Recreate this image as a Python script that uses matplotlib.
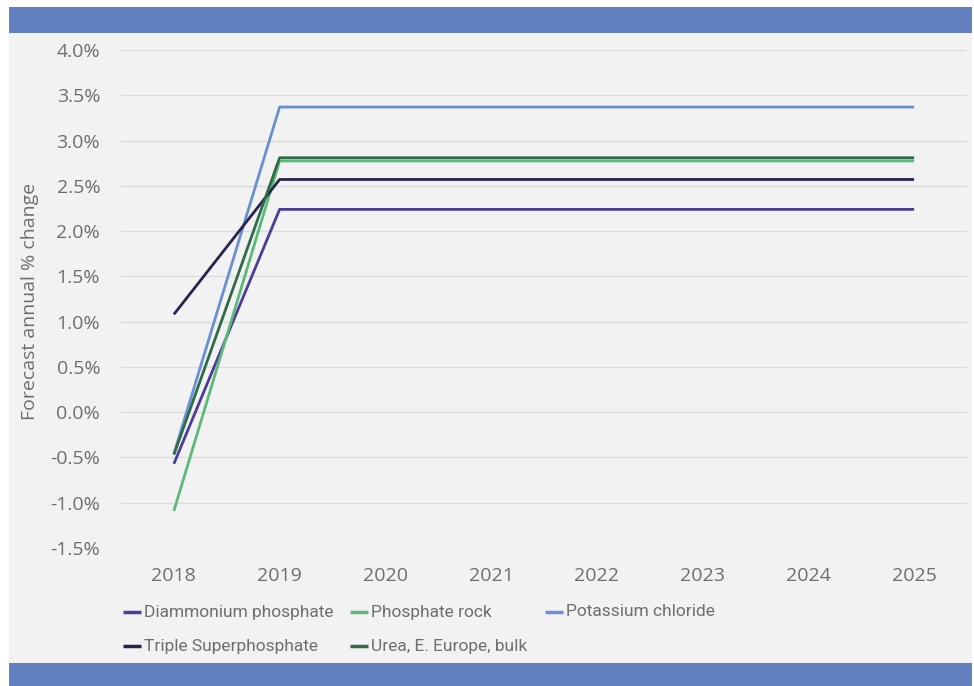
import matplotlib
matplotlib.use("Agg")
import matplotlib.pyplot as plt
from matplotlib.patches import Rectangle
from matplotlib.lines import Line2D
from matplotlib.ticker import FuncFormatter, MultipleLocator

years = ["2018", "2019", "2020", "2021", "2022", "2023", "2024", "2025"]

diammonium_phosphate = [-0.57, 2.24, 2.24, 2.24, 2.24, 2.24, 2.24, 2.24]
phosphate_rock = [-1.09, 2.775, 2.775, 2.775, 2.775, 2.775, 2.775, 2.775]
potassium_chloride = [-0.46, 3.37, 3.37, 3.37, 3.37, 3.37, 3.37, 3.37]
triple_superphosphate = [1.08, 2.57, 2.57, 2.57, 2.57, 2.57, 2.57, 2.57]
urea_e_europe = [-0.47, 2.81, 2.81, 2.81, 2.81, 2.81, 2.81, 2.81]

series_names = ["Diammonium phosphate", "Phosphate rock", "Potassium chloride",
                "Triple Superphosphate", "Urea, E. Europe, bulk"]
series_values = [diammonium_phosphate, phosphate_rock, potassium_chloride,
                 triple_superphosphate, urea_e_europe]
series_colors = ["#4a3c98", "#5cb97a", "#6890d2", "#28234f", "#2f6b47"]

W, H = 974, 686
fig = plt.figure(figsize=(W / 100, H / 100), dpi=100)
fig.patch.set_facecolor("white")

def fx(px):
    return px / W

def fy(py):
    return 1 - py / H

# panel background and header / footer bands
fig.add_artist(Rectangle((fx(9), 0), fx(972 - 9), fy(7), transform=fig.transFigure,
                         facecolor="#f2f2f2", edgecolor="none", zorder=0))
fig.add_artist(Rectangle((fx(9), fy(33)), fx(972 - 9), fy(7) - fy(33), transform=fig.transFigure,
                         facecolor="#6280c0", edgecolor="none", zorder=1))
fig.add_artist(Rectangle((fx(9), 0), fx(972 - 9), fy(663), transform=fig.transFigure,
                         facecolor="#6280c0", edgecolor="none", zorder=1))

ax = fig.add_axes([fx(121), fy(548), fx(967 - 121), fy(50) - fy(548)])
ax.set_facecolor("none")

x = list(range(len(years)))
for vals, color in zip(series_values, series_colors):
    ax.plot(x, vals, color=color, linewidth=2.0, solid_capstyle="butt", zorder=3)

ax.set_xlim(-0.5, len(years) - 0.5)
ax.set_ylim(-1.5, 4.0)
ax.yaxis.set_major_locator(MultipleLocator(0.5))
ax.yaxis.set_major_formatter(FuncFormatter(lambda v, p: f"{v:.1f}%"))
ax.set_xticks(x)
ax.set_xticklabels(years)
ax.grid(axis="y", color="#dcdcdc", linewidth=1.0, zorder=1)
ax.set_axisbelow(True)
for s in ax.spines.values():
    s.set_visible(False)
ax.tick_params(axis="both", length=0, colors="#6e6e6e", labelsize=14)
ax.tick_params(axis="y", pad=15)
ax.tick_params(axis="x", pad=14)
for lab in ax.get_xticklabels() + ax.get_yticklabels():
    lab.set_fontfamily("Open Sans")

fig.text(fx(30), fy(301), "Forecast annual % change", rotation=90, ha="center", va="center",
         color="#6e6e6e", fontsize=14, family="Open Sans")

# legend drawn as a small grid below the axes
col_x = [123, 350, 545]
row_y = [612, 646]
for i, (name, color) in enumerate(zip(series_names, series_colors)):
    r, c = divmod(i, 3)
    x0, y0 = col_x[c], row_y[r]
    fig.add_artist(Line2D([fx(x0), fx(x0 + 18)], [fy(y0), fy(y0)], transform=fig.transFigure,
                          color=color, linewidth=2.5, solid_capstyle="butt"))
    fig.text(fx(x0 + 21), fy(y0), name, ha="left", va="center", color="#6e6e6e",
             fontsize=12.5, family="Roboto")

fig.savefig("out.png", dpi=100)
